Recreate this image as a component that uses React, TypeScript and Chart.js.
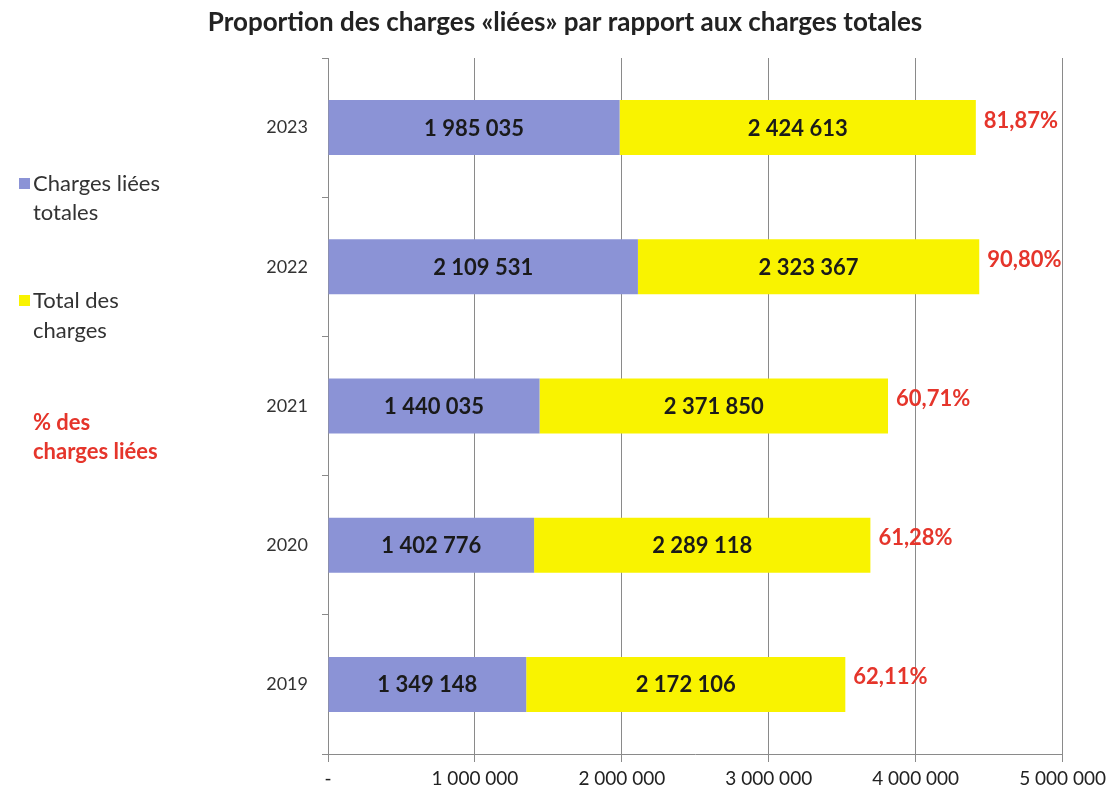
import React, { useEffect, useRef } from 'react';
import { Chart, registerables } from 'chart.js';

Chart.register(...registerables);

const years = ['2023', '2022', '2021', '2020', '2019'];
const chargesLiees = [1985035, 2109531, 1440035, 1402776, 1349148];
const totalCharges = [2424613, 2323367, 2371850, 2289118, 2172106];
const percentLabels = ['81,87%', '90,80%', '60,71%', '61,28%', '62,11%'];
const xTickLabels = ['-', '1 000 000', '2 000 000', '3 000 000', '4 000 000', '5 000 000'];

const TITLE = 'Proportion des charges «liées» par rapport aux charges totales';
const FONT = 'Lato, "Open Sans", sans-serif';
const BLUE = '#8B93D6';
const YELLOW = '#F9F300';
const RED = '#E5352B';

const fmt = (v: number) => String(v).replace(/\B(?=(\d{3})+(?!\d))/g, ' ');

const overlayPlugin = {
  id: 'overlay',
  afterDatasetsDraw(chart: any) {
    const ctx = chart.ctx;
    ctx.save();
    // values in segments
    ctx.font = `bold 22px ${FONT}`;
    ctx.fillStyle = '#1a1a1a';
    ctx.textAlign = 'center';
    ctx.textBaseline = 'middle';
    chart.data.datasets.forEach((ds: any, di: number) => {
      const meta = chart.getDatasetMeta(di);
      meta.data.forEach((bar: any, i: number) => {
        const x = (bar.x + bar.base) / 2;
        ctx.fillText(fmt(ds.data[i]), x, bar.y + 1);
      });
    });
    // percentages
    const meta1 = chart.getDatasetMeta(1);
    ctx.font = `bold 22px ${FONT}`;
    ctx.fillStyle = RED;
    ctx.textAlign = 'left';
    meta1.data.forEach((bar: any, i: number) => {
      ctx.fillText(percentLabels[i], bar.x + 8, bar.y - 7);
    });
    // title
    ctx.font = `bold 26px ${FONT}`;
    ctx.fillStyle = '#222';
    ctx.textAlign = 'center';
    ctx.fillText(TITLE, 565, 23);
    // legend
    ctx.textAlign = 'left';
    ctx.font = `22px ${FONT}`;
    ctx.fillStyle = BLUE;
    ctx.fillRect(19, 178, 11, 11);
    ctx.fillStyle = '#333';
    ctx.fillText('Charges liées', 33, 184);
    ctx.fillText('totales', 33, 213);
    ctx.fillStyle = YELLOW;
    ctx.fillRect(19, 295, 11, 11);
    ctx.fillStyle = '#333';
    ctx.fillText('Total des', 33, 301);
    ctx.fillText('charges', 33, 331);
    ctx.font = `bold 22px ${FONT}`;
    ctx.fillStyle = RED;
    ctx.fillText('% des', 33, 423);
    ctx.fillText('charges liées', 33, 452);
    ctx.restore();
  },
};

export default function App() {
  const ref = useRef<HTMLCanvasElement | null>(null);
  useEffect(() => {
    if (!ref.current) return;
    const chart = new Chart(ref.current, {
      type: 'bar',
      data: {
        labels: years,
        datasets: [
          { label: 'Charges liées totales', data: chargesLiees, backgroundColor: BLUE, barPercentage: 0.395, categoryPercentage: 1 },
          { label: 'Total des charges', data: totalCharges, backgroundColor: YELLOW, barPercentage: 0.395, categoryPercentage: 1 },
        ],
      },
      options: {
        indexAxis: 'y',
        animation: false,
        responsive: false,
        layout: { padding: { top: 58, right: 48, left: 0, bottom: 0 } },
        plugins: { legend: { display: false }, title: { display: false }, tooltip: { enabled: false } },
        scales: {
          x: {
            stacked: true,
            min: 0,
            max: 5000000,
            ticks: {
              stepSize: 1000000,
              color: '#222',
              font: { family: FONT, size: 19 },
              padding: 5,
              maxRotation: 0,
              callback: (v: any, i: number) => xTickLabels[i] ?? '',
            },
            grid: { color: '#8a8a8a', lineWidth: 1, tickLength: 8, drawTicks: true },
            border: { color: '#8a8a8a', width: 1 },
            afterFit: (s: any) => { s.height = 39; },
          },
          y: {
            stacked: true,
            ticks: { color: '#333', font: { family: FONT, size: 18 }, padding: 14 },
            grid: { drawOnChartArea: false, color: '#8a8a8a', tickLength: 6, offset: true },
            border: { color: '#8a8a8a', width: 1 },
            afterFit: (s: any) => { s.width = 328; },
          },
        },
      },
      plugins: [overlayPlugin],
    });
    return () => chart.destroy();
  }, []);
  return (
    <div style={{ position: 'fixed', left: 0, top: 0, width: 1111, height: 793, background: '#fff' }}>
      <canvas ref={ref} width={1111} height={793} style={{ width: 1111, height: 793 }} />
    </div>
  );
}
